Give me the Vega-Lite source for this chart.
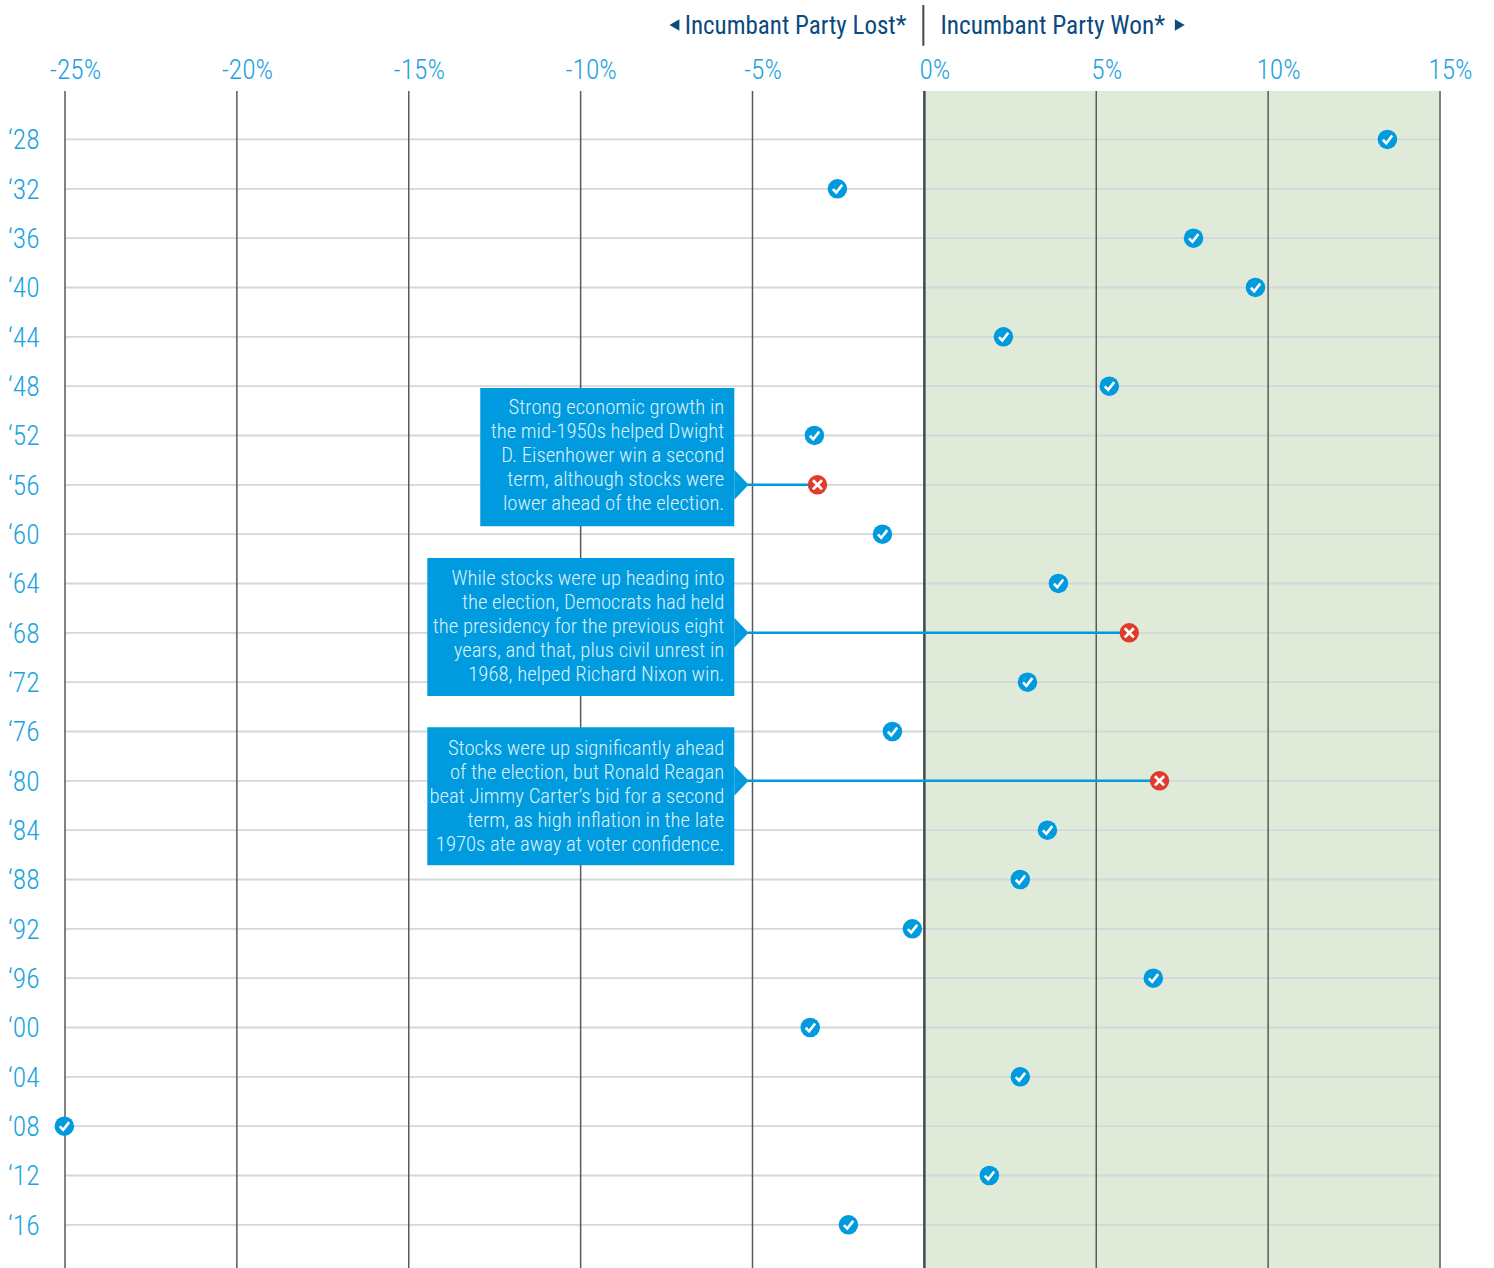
{
"$schema":"https://vega.github.io/schema/vega-lite/v6.json",
"width":1375,"height":1177,
"autosize":{"type":"none"},
"padding":{"left":65,"top":91,"right":54,"bottom":0},
"background":"white",
"config":{"view":{"stroke":null},"font":"Roboto Condensed, Roboto"},
"datasets":{
"dots":[
{"year":1928,"pct":13.47,"call":"right"},{"year":1932,"pct":-2.53,"call":"right"},{"year":1936,"pct":7.83,"call":"right"},{"year":1940,"pct":9.63,"call":"right"},{"year":1944,"pct":2.3,"call":"right"},{"year":1948,"pct":5.38,"call":"right"},{"year":1952,"pct":-3.2,"call":"right"},{"year":1956,"pct":-3.11,"call":"wrong"},{"year":1960,"pct":-1.22,"call":"right"},{"year":1964,"pct":3.9,"call":"right"},{"year":1968,"pct":5.96,"call":"wrong"},{"year":1972,"pct":3.0,"call":"right"},{"year":1976,"pct":-0.93,"call":"right"},{"year":1980,"pct":6.84,"call":"wrong"},{"year":1984,"pct":3.58,"call":"right"},{"year":1988,"pct":2.79,"call":"right"},{"year":1992,"pct":-0.35,"call":"right"},{"year":1996,"pct":6.66,"call":"right"},{"year":2000,"pct":-3.32,"call":"right"},{"year":2004,"pct":2.79,"call":"right"},{"year":2008,"pct":-25.02,"call":"right"},{"year":2012,"pct":1.89,"call":"right"},{"year":2016,"pct":-2.21,"call":"right"}],
"ticks":[{"v":-25},{"v":-20},{"v":-15},{"v":-10},{"v":-5},{"v":5},{"v":10},{"v":15}],
"notes":[
{"year":1956,"pct":-3.11,"x0":-12.92,"x1":-5.53,"y0":1948.16,"y1":1959.35,"tx":-5.82,"ty":1949.78,"arrow":-5.53,"tip":-5.15,"text":"Strong economic growth in\nthe mid-1950s helped Dwight\nD. Eisenhower win a second\nterm, although stocks were\nlower ahead of the election."},
{"year":1968,"pct":5.96,"x0":-14.46,"x1":-5.53,"y0":1961.94,"y1":1973.13,"tx":-5.82,"ty":1963.64,"arrow":-5.53,"tip":-5.15,"text":"While stocks were up heading into\nthe election, Democrats had held\nthe presidency for the previous eight\nyears, and that, plus civil unrest in\n1968, helped Richard Nixon win."},
{"year":1980,"pct":6.84,"x0":-14.46,"x1":-5.53,"y0":1975.65,"y1":1986.84,"tx":-5.82,"ty":1977.43,"arrow":-5.53,"tip":-5.15,"text":"Stocks were up significantly ahead\nof the election, but Ronald Reagan\nbeat Jimmy Carter\u2019s bid for a second\nterm, as high inflation in the late\n1970s ate away at voter confidence."}]
},
"layer":[
{"data":{"values":[{"a":0,"b":15}]},
 "mark":{"type":"rect","color":"#DFEAD8"},
 "encoding":{
  "x":{"field":"a","type":"quantitative","scale":{"domain":[-25,15],"nice":false,"zero":false},
   "axis":{"orient":"top","title":null,"values":[-25,-20,-15,-10,-5,0,5,10,15],"labelExpr":"datum.value+'%'","domain":false,"ticks":false,"grid":false,"labelFontSize":27.5,"labelColor":"#1BA3DF","labelOffset":10,"labelPadding":7,"labelFlush":false,"labelOverlap":false,"labelFontWeight":300}},
  "x2":{"field":"b"},
  "y":{"datum":1924.07,"type":"quantitative","scale":{"domain":[1924.07,2019.5],"nice":false,"zero":false,"reverse":true},
   "axis":{"title":null,"values":[1928,1932,1936,1940,1944,1948,1952,1956,1960,1964,1968,1972,1976,1980,1984,1988,1992,1996,2000,2004,2008,2012,2016],"labelExpr":"'\u2018'+substring(toString(datum.value),2)","domain":false,"ticks":false,"grid":false,"labelFontSize":27.5,"labelColor":"#1BA3DF","labelPadding":26,"labelOffset":1.5,"labelFlush":false,"labelOverlap":false,"labelFontWeight":300}},
  "y2":{"datum":2019.5}}},
{"data":{"name":"dots"},"mark":{"type":"rule","color":"#D3D7D9","strokeWidth":1.8},
 "encoding":{"y":{"field":"year","type":"quantitative"},"x":{"datum":-25,"type":"quantitative"},"x2":{"datum":15}}},
{"data":{"name":"ticks"},"mark":{"type":"rule","color":"#565B60","strokeWidth":1.5},
 "encoding":{"x":{"field":"v","type":"quantitative"},"y":{"datum":1924.07,"type":"quantitative"},"y2":{"datum":2019.5}}},
{"data":{"values":[{"v":0}]},"mark":{"type":"rule","color":"#43484D","strokeWidth":2.5},
 "encoding":{"x":{"field":"v","type":"quantitative"},"y":{"datum":1924.07,"type":"quantitative"},"y2":{"datum":2019.5}}},
{"data":{"name":"notes"},"mark":{"type":"rule","color":"#009ADE","strokeWidth":2.5},
 "encoding":{"y":{"field":"year","type":"quantitative"},"x":{"field":"tip","type":"quantitative"},"x2":{"field":"pct"}}},
{"data":{"name":"notes"},"mark":{"type":"rect","color":"#009ADE"},
 "encoding":{"x":{"field":"x0","type":"quantitative"},"x2":{"field":"x1"},"y":{"field":"y0","type":"quantitative"},"y2":{"field":"y1"}}},
{"data":{"name":"notes"},"mark":{"type":"point","filled":true,"color":"#009ADE","opacity":1,"size":900,"shape":"M0,-1L0.95,0L0,1Z"},
 "encoding":{"x":{"field":"arrow","type":"quantitative"},"y":{"field":"year","type":"quantitative"}}},
{"data":{"name":"notes"},"mark":{"type":"text","align":"right","baseline":"middle","color":"#DDF1FB","fontSize":20.7,"lineHeight":24,"lineBreak":"\n","fontWeight":300},
 "encoding":{"x":{"field":"tx","type":"quantitative"},"y":{"field":"ty","type":"quantitative"},"text":{"field":"text"}}},
{"data":{"name":"dots"},"mark":{"type":"point","filled":true,"opacity":1,"size":380,"shape":"circle"},
 "encoding":{"x":{"field":"pct","type":"quantitative"},"y":{"field":"year","type":"quantitative"},
  "color":{"field":"call","type":"nominal","scale":{"domain":["right","wrong"],"range":["#009ADE","#E03C2B"]},"legend":null}}},
{"data":{"name":"dots"},"transform":[{"filter":"datum.call==='right'"}],"mark":{"type":"point","filled":false,"opacity":1,"color":"white","strokeWidth":2.6,"size":130,"shape":"M-0.8,0.05L-0.2,0.65L0.85,-0.7"},
 "encoding":{"x":{"field":"pct","type":"quantitative"},"y":{"field":"year","type":"quantitative"}}},
{"data":{"name":"dots"},"transform":[{"filter":"datum.call==='wrong'"}],"mark":{"type":"point","filled":false,"opacity":1,"color":"white","strokeWidth":2.8,"size":170,"shape":"M-0.7,-0.7L0.7,0.7M-0.7,0.7L0.7,-0.7"},
 "encoding":{"x":{"field":"pct","type":"quantitative"},"y":{"field":"year","type":"quantitative"}}},
{"data":{"values":[{"label":"Incumbant Party Lost*","p":-0.52,"y":1918.76}]},"mark":{"type":"text","align":"right","baseline":"middle","color":"#0B4A80","fontSize":25},
 "encoding":{"x":{"field":"p","type":"quantitative"},"y":{"field":"y","type":"quantitative"},"text":{"field":"label"}}},
{"data":{"values":[{"label":"Incumbant Party Won*","p":0.47,"y":1918.76}]},"mark":{"type":"text","align":"left","baseline":"middle","color":"#0B4A80","fontSize":25.3},
 "encoding":{"x":{"field":"p","type":"quantitative"},"y":{"field":"y","type":"quantitative"},"text":{"field":"label"}}},
{"data":{"values":[{"p":-7.27,"y":1918.72}]},"mark":{"type":"point","filled":true,"opacity":1,"color":"#0B4A80","size":130,"shape":"triangle-left"},
 "encoding":{"x":{"field":"p","type":"quantitative"},"y":{"field":"y","type":"quantitative"}}},
{"data":{"values":[{"p":7.43,"y":1918.72}]},"mark":{"type":"point","filled":true,"opacity":1,"color":"#0B4A80","size":130,"shape":"triangle-right"},
 "encoding":{"x":{"field":"p","type":"quantitative"},"y":{"field":"y","type":"quantitative"}}},
{"data":{"values":[{"p":-0.03,"a":1917.1,"b":1920.4}]},"mark":{"type":"rule","color":"#43484D","strokeWidth":2},
 "encoding":{"x":{"field":"p","type":"quantitative"},"y":{"field":"a","type":"quantitative"},"y2":{"field":"b"}}}
]
}
